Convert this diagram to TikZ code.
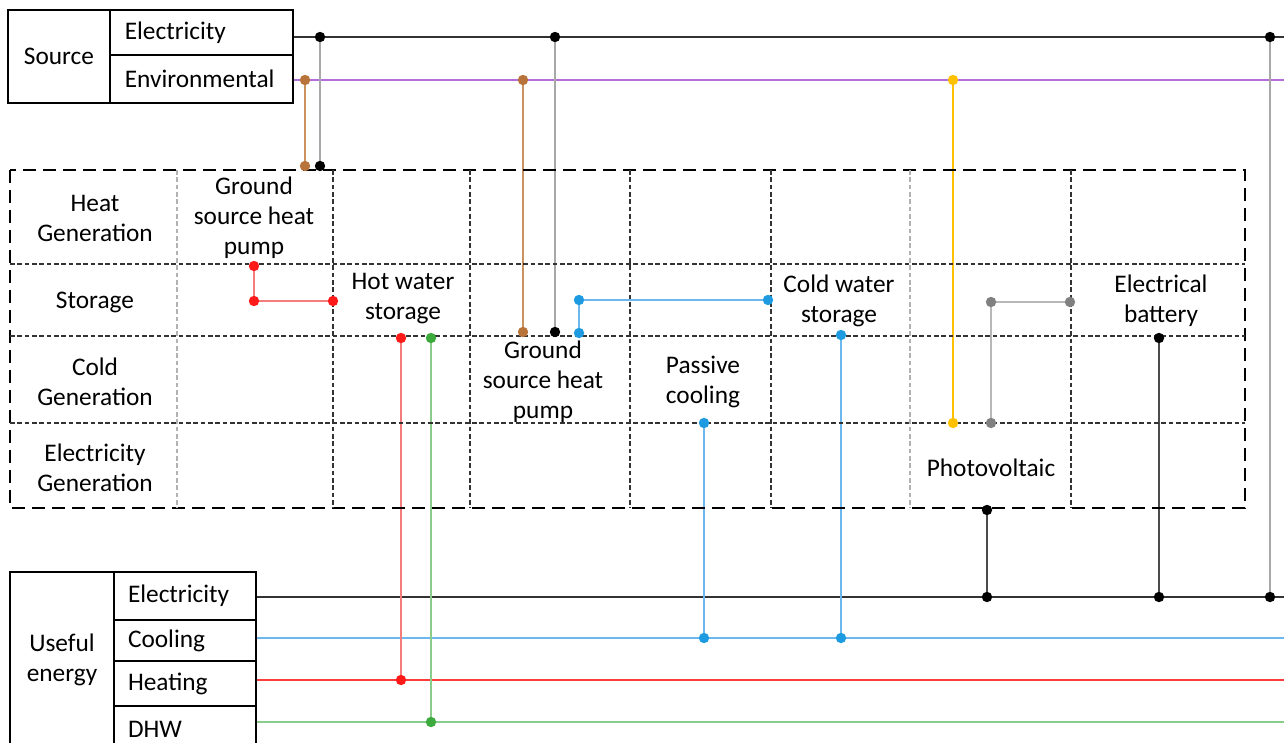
\documentclass[tikz,border=0pt]{standalone}
\usepackage{fontspec}
\setmainfont{Carlito}
\usetikzlibrary{positioning, calc, backgrounds}

\definecolor{busviolet}{HTML}{B46EDC}
\definecolor{envbrown}{HTML}{B8733A}
\definecolor{envbrownL}{HTML}{C9925E}
\definecolor{pvyellow}{HTML}{FFC000}
\definecolor{heatred}{HTML}{FF1A1A}
\definecolor{heatredL}{HTML}{F47C7C}
\definecolor{coolblue}{HTML}{1E9BE0}
\definecolor{coolblueL}{HTML}{6CB8EE}
\definecolor{dhwgreen}{HTML}{3CAA3C}
\definecolor{dhwgreenL}{HTML}{8ACC8A}
\definecolor{feedgray}{HTML}{A8A8A8}
\definecolor{storegray}{HTML}{808080}
\definecolor{storegrayL}{HTML}{B8B8B8}

\begin{document}
\begin{tikzpicture}[
    x=0.75pt, y=-0.75pt,
    txt/.style={font=\fontsize{19}{22.5}\selectfont, align=center, inner sep=0pt},
    cellbox/.style={draw, line width=1.6pt, inner xsep=11pt, inner ysep=0pt,
                    align=left, font=\fontsize{19}{22.5}\selectfont},
    headbox/.style={draw, line width=1.6pt, align=center,
                    font=\fontsize{19}{22.5}\selectfont},
    joint/.style={circle, fill=#1, inner sep=0pt, minimum size=7.8pt},
    wire/.style={line width=1.1pt, draw=#1},
    outerdash/.style={line width=1.9pt, dash pattern=on 10pt off 5pt},
    innerdash/.style={line width=0.9pt, dash pattern=on 3.5pt off 2pt},
]
\clip (0,0) rectangle (1284,742);

% ===================== SOURCE =====================
\node[headbox, minimum width=76.5pt, minimum height=69.75pt] (src) at (59,56.5) {Source};
\node[cellbox, text width=115pt, minimum height=33.75pt] (srcel) at (201.5,32.5) {Electricity};
\node[cellbox, text width=115pt, minimum height=36pt] (srcenv) at (201.5,79) {Environmental};

% ===================== USEFUL ENERGY =====================
\node[headbox, minimum width=78pt, minimum height=132pt] (use) at (62,660) {Useful\\energy};
\node[cellbox, text width=85.5pt, inner xsep=10.5pt, minimum height=36pt] (useel) at (185,596) {Electricity};
\node[cellbox, text width=85.5pt, inner xsep=10.5pt, minimum height=30.75pt] (usecool) at (185,640.5) {Cooling};
\node[cellbox, text width=85.5pt, inner xsep=10.5pt, minimum height=33.75pt] (useheat) at (185,683.5) {Heating};
\node[cellbox, text width=85.5pt, inner xsep=10.5pt, minimum height=34.5pt] (usedhw) at (185,729) {DHW};

% ===================== CONVERSION TABLE =====================
\draw[outerdash] (10,170) rectangle (1245,508);
\foreach \y in {264, 336, 423} {
    \draw[innerdash, black!80] (10,\y) -- (1245,\y);
}
\foreach \x/\c in {177/gray!60, 333/black!80, 470/black!80, 630/black!80,
                   771/black!80, 910/gray!60, 1071/black!80} {
    \draw[innerdash, \c] (\x,170) -- (\x,508);
}

% row headings
\foreach \n/\y/\t in {heatgen/218/{Heat\\Generation}, storage/302/{Storage},
                      coldgen/382/{Cold\\Generation}, elgen/468/{Electricity\\Generation}} {
    \node[txt] (\n) at (95,\y) {\t};
}

% technologies
\node[txt] (gshpA) at (254,218) {Ground\\source heat\\pump};
\node[txt] (hws)   at (403,299) {Hot water\\storage};
\node[txt] (gshpB) at (543,382) {Ground\\source heat\\pump};
\node[txt] (pcool) at (703,382) {Passive\\cooling};
\node[txt] (cws)   at (839,301) {Cold water\\storage};
\node[txt] (pv)    at (991,468) {Photovoltaic};
\node[txt] (batt)  at (1161,301) {Electrical\\battery};

% ===================== JOINTS =====================
% source buses
\node[joint=black] (e1) at (320,37) {};
\node[joint=black] (e2) at (555,37) {};
\node[joint=black] (e3) at (1270,37) {};
\node[joint=envbrown] (v1) at (305,80) {};
\node[joint=envbrown] (v2) at (523,80) {};
\node[joint=pvyellow] (v3) at (953,80) {};

% ground source heat pump (heating)
\node[joint=envbrown] (gAv) at (305,166) {};
\node[joint=black]    (gAe) at (320,166) {};
\node[joint=heatred] (h1) at (254,266) {};
\node[joint=heatred] (h2) at (254,301) {};
\node[joint=heatred] (h3) at (333,301) {};

% hot water storage
\node[joint=heatred]  (h4) at (401,338) {};
\node[joint=dhwgreen] (w1) at (431,338) {};

% ground source heat pump (cooling)
\node[joint=envbrown] (gBv) at (523,332) {};
\node[joint=black]    (gBe) at (555,332) {};
\node[joint=coolblue] (c1) at (579,333) {};
\node[joint=coolblue] (c2) at (579,300) {};
\node[joint=coolblue] (c3) at (768,300) {};

% passive cooling, cold water storage
\node[joint=coolblue] (c4) at (704,423) {};
\node[joint=coolblue] (c5) at (841,335) {};

% photovoltaic, battery
\node[joint=pvyellow]  (p1) at (953,423) {};
\node[joint=storegray] (p2) at (991,423) {};
\node[joint=storegray] (p3) at (991,302) {};
\node[joint=storegray] (p4) at (1070,302) {};
\node[joint=black]     (p5) at (987,510) {};
\node[joint=black]     (b1) at (1159,338) {};

% useful energy buses
\node[joint=black]    (u1) at (987,597) {};
\node[joint=black]    (u2) at (1159,597) {};
\node[joint=black]    (u3) at (1270,597) {};
\node[joint=coolblue] (c6) at (704,638) {};
\node[joint=coolblue] (c7) at (841,638) {};
\node[joint=heatred]  (h5) at (401,680) {};
\node[joint=dhwgreen] (w2) at (431,722) {};

% bus ends at the right margin
\coordinate (elEnd)   at (1284,37);
\coordinate (envEnd)  at (1284,80);
\coordinate (uelEnd)  at (1284,597);
\coordinate (ucoEnd)  at (1284,638);
\coordinate (uheEnd)  at (1284,680);
\coordinate (udhEnd)  at (1284,722);

% ===================== WIRES =====================
\begin{scope}[on background layer]
    % buses
    \draw[wire=black!80]    (srcel.east |- e1) -- (elEnd);
    \draw[wire=busviolet]   (srcenv.east |- v1) -- (envEnd);
    \draw[wire=black!80]    (useel.east |- u1) -- (uelEnd);
    \draw[wire=coolblueL]   (usecool.east |- c6) -- (ucoEnd);
    \draw[wire=heatred!85]  (useheat.east |- h5) -- (uheEnd);
    \draw[wire=dhwgreenL]   (usedhw.east |- w2) -- (udhEnd);

    % feeds from the sources
    \draw[wire=envbrownL] (v1) -- (gAv);
    \draw[wire=envbrownL] (v2) -- (gBv);
    \draw[wire=feedgray]  (e1) -- (gAe);
    \draw[wire=feedgray]  (e2) -- (gBe);
    \draw[wire=feedgray, line width=1.5pt] (e3) -- (u3);
    \draw[wire=pvyellow]  (v3) -- (p1);

    % heating and DHW
    \draw[wire=heatredL]  (h1) -- (h2) -- (h3);
    \draw[wire=heatredL]  (h4) -- (h5);
    \draw[wire=dhwgreenL] (w1) -- (w2);

    % cooling
    \draw[wire=coolblueL] (c1) -- (c2) -- (c3);
    \draw[wire=coolblueL] (c4) -- (c6);
    \draw[wire=coolblueL] (c5) -- (c7);

    % electricity
    \draw[wire=storegrayL] (p2) -- (p3) -- (p4);
    \draw[wire=black!70, line width=1.5pt] (p5) -- (u1);
    \draw[wire=black!70, line width=1.5pt] (b1) -- (u2);
\end{scope}

\end{tikzpicture}
\end{document}
